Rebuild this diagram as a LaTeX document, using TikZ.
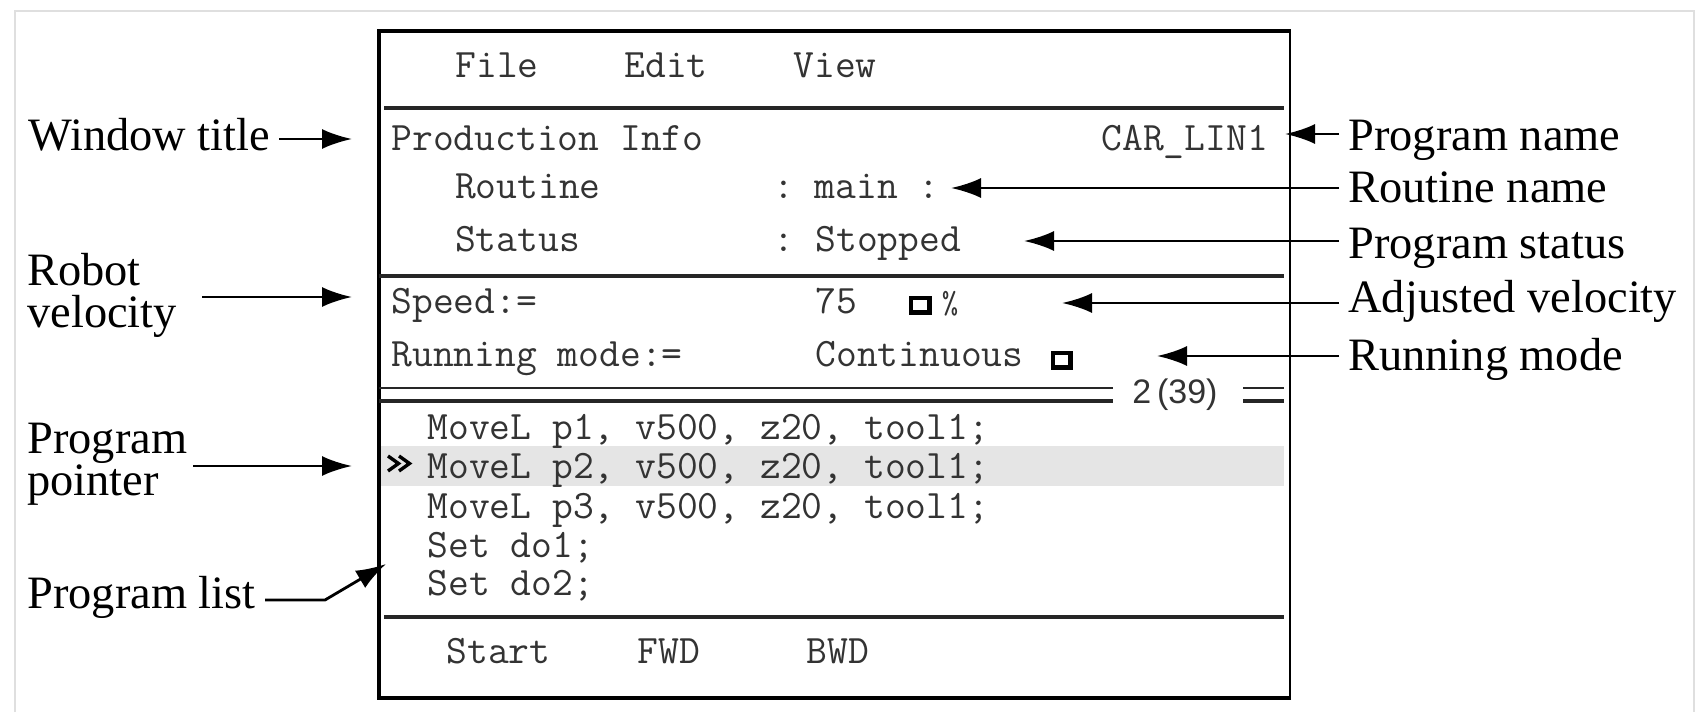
\documentclass[tikz,border=0pt]{standalone}
\usepackage{fontspec}
\setmainfont{Liberation Serif}
\newfontfamily\numfont{Liberation Sans}
\usetikzlibrary{arrows.meta}

\begin{document}
\begin{tikzpicture}[x=0.5pt,y=-0.5pt,
  mono/.style={font=\fontsize{20.2pt}{24pt}\ttfamily, text=black!80, inner sep=0pt, anchor=base west},
  lbl/.style={font=\fontsize{23.2pt}{28pt}\selectfont, inner sep=0pt, anchor=base west},
  arr/.style={line width=1.4pt, -{Latex[length=15pt,width=10pt]}},
  rule/.style={line width=1.6pt, black!85},
  thinrule/.style={line width=1.3pt, black!85},
  chk/.style={line width=2.2pt}]
\useasboundingbox (0,0) rectangle (1697,712);

% light outer frame
\draw[gray!25, line width=0.6pt] (15,712) -- (15,11) -- (1694,11) -- (1694,712);

% highlighted program line
\fill[gray!20] (381,446) rectangle (1284,486);

% window outline
\draw[line width=1.1pt] (1290,31) -- (1290,698);
\draw[line width=1.8pt, line join=miter] (1291,698) -- (379,698) -- (379,31) -- (1291,31);

% section rules
\draw[rule] (384,108) -- (1284,108);
\draw[rule] (379,276) -- (1284,276);
\draw[thinrule] (379,388) -- (1113,388);
\draw[rule] (379,401) -- (1113,401);
\draw[thinrule] (1243,388) -- (1284,388);
\draw[rule] (1243,401) -- (1284,401);
\draw[rule] (384,617) -- (1284,617);

% menu bar
\node[mono] (mfile) at (455,77) {File};
\node[mono] (medit) at (624,77) {Edit};
\node[mono] (mview) at (793,77) {View};

% production info
\node[mono] (title) at (391,150) {Production Info};
\node[mono] (pname) at (1101,150) {CAR\_LIN1};
\node[mono] (rout) at (454.6,198) {Routine};
\node[mono] (routv) at (772.6,198) {:~main~:};
\node[mono] (stat) at (454.6,251) {Status};
\node[mono] (statc) at (772.6,251) {:};
\node[mono] (statv) at (815,251) {Stopped};

% speed and running mode
\node[mono] (speed) at (391,313) {Speed:=};
\node[mono] (speedv) at (815,313) {75};
\draw[chk] (911,298) rectangle (929.5,312.5);
\node[mono, anchor=base, font=\fontsize{16pt}{20pt}\ttfamily] (pct) at (950,313) {\%};
\node[mono] (mode) at (391,366) {Running mode:=};
\node[mono] (modev) at (815,366) {Continuous};
\draw[chk] (1053,353) rectangle (1070.5,367.5);

% line counter
\node[inner sep=0pt, anchor=base, text=black!80,
      font=\numfont\fontsize{17pt}{20pt}\selectfont] (count) at (1175,403) {2\,(39)};

% program list
\draw[line width=1.7pt, line join=miter] (388,456) -- (398.5,463.5) -- (388,471)
                                          (399,456) -- (409.5,463.5) -- (399,471);
\node[mono] (l1) at (427,439) {MoveL p1, v500, z20, tool1;};
\node[mono] (l2) at (427,478) {MoveL p2, v500, z20, tool1;};
\node[mono] (l3) at (427,518) {MoveL p3, v500, z20, tool1;};
\node[mono] (l4) at (427,557) {Set do1;};
\node[mono] (l5) at (427,595) {Set do2;};

% function keys
\node[mono] (kstart) at (446,663) {Start};
\node[mono] (kfwd) at (637,663) {FWD};
\node[mono] (kbwd) at (806,663) {BWD};

% labels on the left
\node[lbl] (wt) at (28,150) {Window title};
\node[lbl] (rv1) at (27,285) {Robot};
\node[lbl] (rv2) at (27,327) {velocity};
\node[lbl] (pp1) at (27,453) {Program};
\node[lbl] (pp2) at (27,495) {pointer};
\node[lbl] (pl) at (27,608) {Program list};

% labels on the right
\node[lbl] (pn) at (1348,150) {Program name};
\node[lbl] (rn) at (1348,202) {Routine name};
\node[lbl] (ps) at (1348,258) {Program status};
\node[lbl] (av) at (1348,312) {Adjusted velocity};
\node[lbl] (rm) at (1348,370) {Running mode};

% arrow end points
\coordinate (wt-s) at (279,139);   \coordinate (wt-t) at (352,139);
\coordinate (rv-s) at (202,297);   \coordinate (rv-t) at (352,297);
\coordinate (pp-s) at (193,466);   \coordinate (pp-t) at (352,466);
\coordinate (pl-s) at (265,600);   \coordinate (pl-k) at (325,600);
\coordinate (pl-t) at (386,564);
\coordinate (pn-s) at (1339,134);  \coordinate (pn-t) at (1285,134);
\coordinate (rn-s) at (1339,188);  \coordinate (rn-t) at (951,188);
\coordinate (ps-s) at (1339,241);  \coordinate (ps-t) at (1024,241);
\coordinate (av-s) at (1339,303);  \coordinate (av-t) at (1062,303);
\coordinate (rm-s) at (1339,356);  \coordinate (rm-t) at (1157,356);

% arrows
\draw[arr] (wt-s) -- (wt-t);
\draw[arr] (rv-s) -- (rv-t);
\draw[arr] (pp-s) -- (pp-t);
\draw[arr] (pl-s) -- (pl-k) -- (pl-t);
\draw[arr] (pn-s) -- (pn-t);
\draw[arr] (rn-s) -- (rn-t);
\draw[arr] (ps-s) -- (ps-t);
\draw[arr] (av-s) -- (av-t);
\draw[arr] (rm-s) -- (rm-t);
\end{tikzpicture}
\end{document}
